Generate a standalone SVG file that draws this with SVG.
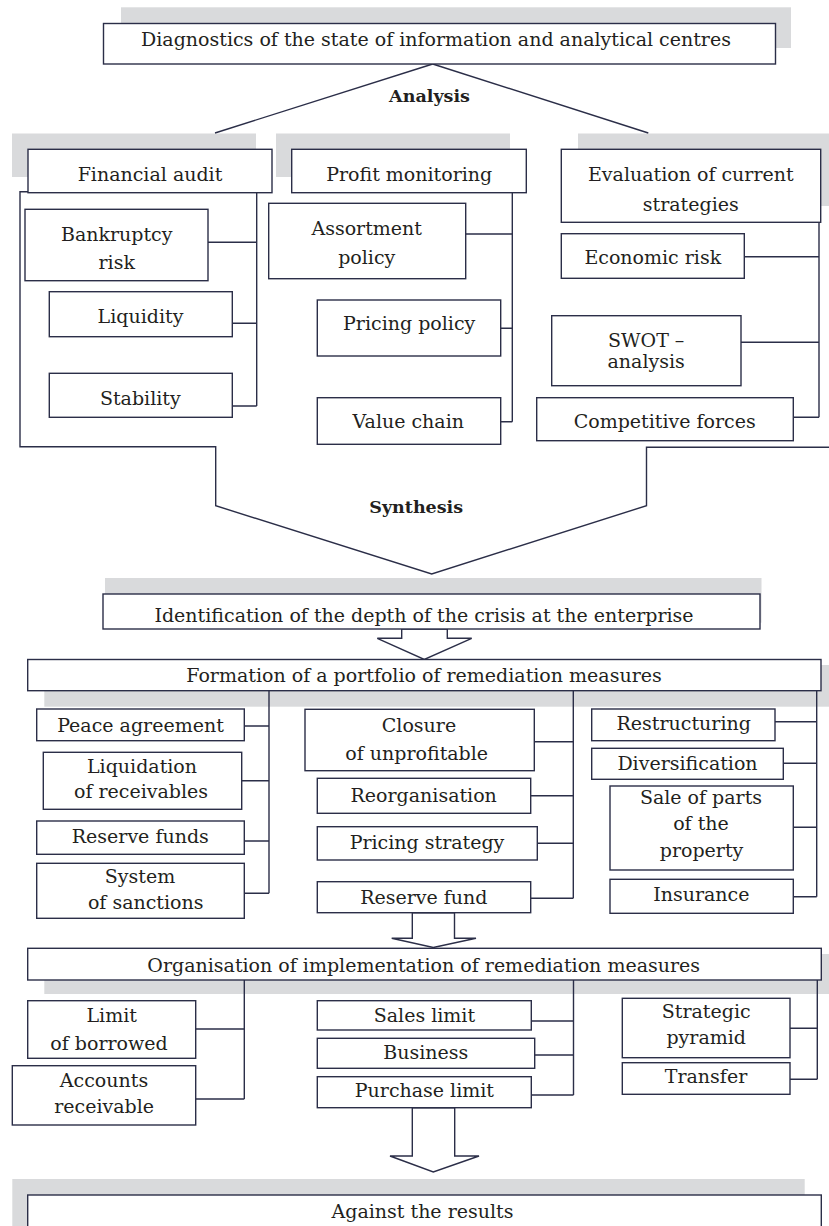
<svg xmlns="http://www.w3.org/2000/svg" width="829" height="1226" viewBox="0 0 829 1226">
<style>
.bg{fill:#ffffff}
.sh{fill:#d9dadc;stroke:none}
.bx{fill:#ffffff;stroke:#2b2e48;stroke-width:1.4}
.ln{fill:none;stroke:#2b2e48;stroke-width:1.4}
.ar{fill:#ffffff;stroke:#2b2e48;stroke-width:1.4;stroke-linejoin:miter}
text{font-family:"DejaVu Serif","Liberation Serif",serif;font-size:19px;fill:#231f20;text-anchor:middle}
.b{font-weight:bold;font-size:17.5px}
</style>
<rect class="bg" x="0" y="0" width="829" height="1226"/>
<g id="shadows">
<rect class="sh" x="121" y="7.3" width="670" height="40.7"/>
<rect class="sh" x="12" y="133.5" width="244" height="43.5"/>
<rect class="sh" x="276" y="133.5" width="234" height="43.5"/>
<rect class="sh" x="578" y="133.5" width="260" height="72.5"/>
<rect class="sh" x="105" y="578" width="656.5" height="44.7"/>
<rect class="sh" x="44.3" y="665" width="800" height="41.7"/>
<rect class="sh" x="44.3" y="954" width="800" height="40"/>
<rect class="sh" x="12.3" y="1179" width="792.4" height="60"/>
</g>
<g id="connectors">
<line class="ln" x1="432.7" y1="64" x2="215" y2="133"/>
<line class="ln" x1="432.7" y1="64" x2="648.3" y2="133"/>
<path class="ln" d="M256.7,192.7V406M208,242.3H256.7M232.3,323.3H256.7M232.3,406H256.7"/>
<path class="ln" d="M512.3,192.7V421.7M465.7,234H512.3M500.7,328.3H512.3M500.7,421.7H512.3"/>
<path class="ln" d="M819,222.3V417.3M744.3,256.7H819M741,342.3H819M793.3,417.3H819"/>
<path class="ln" d="M28,191.7H20V446.7H215.7V505.7L431.7,574L646.5,505.7V447.3H830"/>
<path class="ln" d="M269,690.7V893.3M244.3,726H269M241.7,780.7H269M244.3,841H269M244.3,893.3H269"/>
<path class="ln" d="M573.3,690.7V898.3M534.3,741.7H573.3M530.7,795.7H573.3M537.3,843.3H573.3M530.7,898.3H573.3"/>
<path class="ln" d="M816.7,690.7V896.7M775,721.7H816.7M783.3,763.3H816.7M793.3,827.3H816.7M793.3,896.7H816.7"/>
<path class="ln" d="M244.3,980V1099M195.7,1029H244.3M195.7,1099H244.3"/>
<path class="ln" d="M573.5,980V1095M531.3,1021H573.5M534.7,1055H573.5M531.3,1095H573.5"/>
<path class="ln" d="M817.3,980V1079.3M790,1028.3H817.3M790,1079.3H817.3"/>
<polygon class="ar" points="401.7,629 401.7,638.3 377.3,638.3 424.3,659.5 471.7,638.3 447.3,638.3 447.3,629"/>
<polygon class="ar" points="412.3,912.7 412.3,938.3 391.7,938.3 433.3,947.5 476,938.3 454.5,938.3 454.5,912.7"/>
<polygon class="ar" points="412.3,1107.7 412.3,1156 390,1156 433.3,1172 479,1156 454.7,1156 454.7,1107.7"/>
</g>
<g id="n-diagnostics"><rect class="bx" x="103.5" y="23.5" width="672" height="40.5"/><text x="436" y="46">Diagnostics of the state of information and analytical centres</text></g>
<g id="l-analysis"><text class="b" x="429.5" y="101.7">Analysis</text></g>
<g id="n-financial-audit"><rect class="bx" x="28" y="149.3" width="244" height="43.4"/><text x="150" y="180.7">Financial audit</text></g>
<g id="n-profit-monitoring"><rect class="bx" x="291.7" y="149.3" width="234.6" height="43.4"/><text x="409.2" y="180.7">Profit monitoring</text></g>
<g id="n-evaluation"><rect class="bx" x="561.3" y="149.3" width="259.4" height="73"/><text x="690.8" y="180.7">Evaluation of current</text><text x="690.8" y="211">strategies</text></g>
<g id="n-bankruptcy"><rect class="bx" x="25" y="209.3" width="183" height="71.4"/><text x="116.7" y="241">Bankruptcy</text><text x="116.7" y="269.3">risk</text></g>
<g id="n-liquidity"><rect class="bx" x="49.3" y="291.7" width="183" height="45"/><text x="140.5" y="322.7">Liquidity</text></g>
<g id="n-stability"><rect class="bx" x="49.3" y="373.3" width="183" height="44"/><text x="140.3" y="405">Stability</text></g>
<g id="n-assortment"><rect class="bx" x="268.7" y="203.3" width="197" height="75.4"/><text x="366.7" y="235">Assortment</text><text x="366.7" y="263.5">policy</text></g>
<g id="n-pricing-policy"><rect class="bx" x="317.3" y="300" width="183.4" height="56"/><text x="409.2" y="330">Pricing policy</text></g>
<g id="n-value-chain"><rect class="bx" x="317.3" y="397.7" width="183.4" height="46.6"/><text x="408.3" y="427.7">Value chain</text></g>
<g id="n-economic-risk"><rect class="bx" x="561.3" y="233.7" width="183" height="44.6"/><text x="652.8" y="264.3">Economic risk</text></g>
<g id="n-swot"><rect class="bx" x="551.7" y="315.7" width="189.3" height="70"/><text x="646.2" y="346.7">SWOT –</text><text x="646.2" y="368">analysis</text></g>
<g id="n-competitive"><rect class="bx" x="536.7" y="397.7" width="256.6" height="43"/><text x="664.7" y="428.3">Competitive forces</text></g>
<g id="l-synthesis"><text class="b" x="416.2" y="513.3">Synthesis</text></g>
<g id="n-identification"><rect class="bx" x="103" y="594" width="657" height="35"/><text x="424" y="621.7">Identification of the depth of the crisis at the enterprise</text></g>
<g id="n-formation"><rect class="bx" x="27.7" y="659.5" width="793.3" height="31.2"/><text x="424" y="681.7">Formation of a portfolio of remediation measures</text></g>
<g id="n-peace"><rect class="bx" x="36.7" y="709" width="207.6" height="31.7"/><text x="140.5" y="731.7">Peace agreement</text></g>
<g id="n-liquidation"><rect class="bx" x="43.3" y="752.3" width="198.4" height="57"/><text x="142" y="772.7">Liquidation</text><text x="141" y="798.3">of receivables</text></g>
<g id="n-reserve-funds"><rect class="bx" x="36.7" y="821" width="207.6" height="33.3"/><text x="140.3" y="842.7">Reserve funds</text></g>
<g id="n-sanctions"><rect class="bx" x="36.7" y="863.3" width="207.6" height="55"/><text x="140" y="883.3">System</text><text x="145.7" y="909.3">of sanctions</text></g>
<g id="n-closure"><rect class="bx" x="305" y="709.3" width="229.3" height="61.4"/><text x="419" y="731.7">Closure</text><text x="416.7" y="760">of unprofitable</text></g>
<g id="n-reorganisation"><rect class="bx" x="317.3" y="778.3" width="213.4" height="35"/><text x="423.7" y="801.7">Reorganisation</text></g>
<g id="n-pricing-strategy"><rect class="bx" x="317.3" y="826.7" width="220" height="33.3"/><text x="427" y="848.5">Pricing strategy</text></g>
<g id="n-reserve-fund"><rect class="bx" x="317.3" y="881.7" width="213.4" height="31"/><text x="423.8" y="904">Reserve fund</text></g>
<g id="n-restructuring"><rect class="bx" x="591.7" y="709" width="183.3" height="31.7"/><text x="683.7" y="730">Restructuring</text></g>
<g id="n-diversification"><rect class="bx" x="591.7" y="748.3" width="191.6" height="31"/><text x="687.5" y="770">Diversification</text></g>
<g id="n-sale"><rect class="bx" x="610" y="786" width="183.3" height="84"/><text x="701" y="804">Sale of parts</text><text x="701" y="830">of the</text><text x="701.5" y="856.5">property</text></g>
<g id="n-insurance"><rect class="bx" x="610" y="879.3" width="183.3" height="34"/><text x="701.3" y="900.7">Insurance</text></g>
<g id="n-organisation"><rect class="bx" x="27.7" y="948.3" width="793.6" height="31.7"/><text x="423.7" y="971.7">Organisation of implementation of remediation measures</text></g>
<g id="n-limit"><rect class="bx" x="27.7" y="1000.7" width="168" height="57.6"/><text x="111.7" y="1021.7">Limit</text><text x="109" y="1050">of borrowed</text></g>
<g id="n-accounts"><rect class="bx" x="12.3" y="1065.7" width="183.4" height="59.3"/><text x="104" y="1087.3">Accounts</text><text x="104.2" y="1113.3">receivable</text></g>
<g id="n-sales-limit"><rect class="bx" x="317.3" y="1000.7" width="214" height="29.3"/><text x="424.4" y="1021.7">Sales limit</text></g>
<g id="n-business"><rect class="bx" x="317.3" y="1038.3" width="217.4" height="30"/><text x="425.7" y="1059.3">Business</text></g>
<g id="n-purchase"><rect class="bx" x="317.3" y="1076.7" width="214" height="31"/><text x="424.4" y="1096.7">Purchase limit</text></g>
<g id="n-strategic"><rect class="bx" x="622.3" y="998.3" width="167.7" height="59.4"/><text x="706.2" y="1018.3">Strategic</text><text x="706.2" y="1044">pyramid</text></g>
<g id="n-transfer"><rect class="bx" x="622.3" y="1062.7" width="167.7" height="31.6"/><text x="706" y="1083.3">Transfer</text></g>
<g id="n-against"><rect class="bx" x="27.7" y="1195" width="793.6" height="45"/><text x="422.5" y="1218.3">Against the results</text></g>
</svg>
